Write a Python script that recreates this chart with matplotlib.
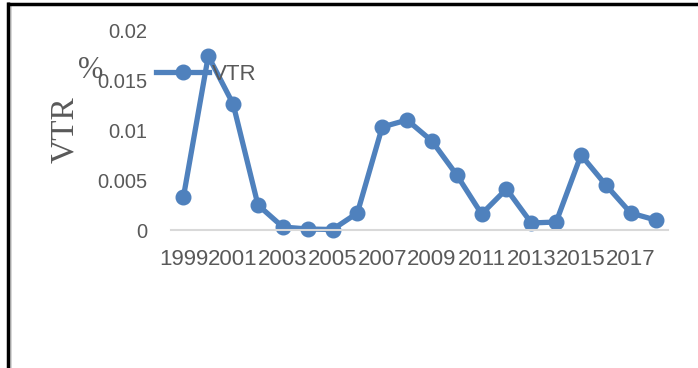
import matplotlib
matplotlib.use("Agg")
import matplotlib.pyplot as plt
from matplotlib.lines import Line2D

years = [1999, 2000, 2001, 2002, 2003, 2004, 2005, 2006, 2007, 2008,
         2009, 2010, 2011, 2012, 2013, 2014, 2015, 2016, 2017, 2018]
vtr = [0.0033, 0.0174, 0.0126, 0.0025, 0.0003, 0.0001, 0.00005, 0.0017, 0.0103, 0.0110,
       0.0089, 0.0055, 0.0016, 0.0041, 0.0007, 0.0008, 0.0075, 0.0045, 0.0017, 0.0010]
yticks = [0, 0.005, 0.01, 0.015, 0.02]
ytick_labels = ["0", "0.005", "0.01", "0.015", "0.02"]
series_name = "VTR"
ylabel_main = "VTR"
ylabel_unit = "%"

W, H = 698, 368
fig = plt.figure(figsize=(W / 100, H / 100), dpi=100)
fig.patch.set_facecolor("white")

ax = fig.add_axes([171 / W, 1 - 230 / H, (668 - 171) / W, 200 / H])
xs = list(range(len(years)))
color = "#4f81bd"
ax.plot(xs, vtr, color=color, lw=3.8, marker="o", markersize=10.5,
        label=series_name, clip_on=False, solid_joinstyle="round")

ax.set_xlim(-0.5, len(years) - 0.5)
ax.set_ylim(0, 0.02)
ax.set_yticks(yticks)
ax.set_yticklabels(ytick_labels)
ax.set_xticks(xs[::2])
ax.set_xticklabels([str(y) for y in years[::2]])

for s in ["top", "right", "left"]:
    ax.spines[s].set_visible(False)
ax.spines["bottom"].set_color("#d9d9d9")
ax.spines["bottom"].set_linewidth(1.5)
ax.tick_params(axis="both", length=0, colors="#595959")
ax.tick_params(axis="y", pad=17, labelsize=14.5)
ax.tick_params(axis="x", pad=14, labelsize=16)
for lab in ax.get_xticklabels() + ax.get_yticklabels():
    lab.set_fontfamily("Liberation Sans")
ax.set_facecolor("none")

leg = fig.legend(loc="center left", bbox_to_anchor=(156 / W, 1 - 74 / H),
                 frameon=False, borderpad=0, borderaxespad=0,
                 handlelength=2.4, handletextpad=0.1,
                 prop={"family": "Liberation Sans", "size": 16})
for t in leg.get_texts():
    t.set_color("#595959")

fig.text(65 / W, 1 - 130 / H, ylabel_main, rotation=90, ha="center", va="center",
         family="Liberation Serif", fontsize=24, color="#595959")
fig.text(91 / W, 1 - 71 / H, ylabel_unit, ha="center", va="center",
         family="Liberation Serif", fontsize=22, color="#595959")

# outer frame (top and left edges)
fig.add_artist(Line2D([8.3 / W, 1.0], [1 - 5.3 / H, 1 - 5.3 / H], transform=fig.transFigure,
                      color="#d0d0d0", lw=1.2))
fig.add_artist(Line2D([10.6 / W, 10.6 / W], [0, 1 - 3.5 / H], transform=fig.transFigure,
                      color="#d0d0d0", lw=1.2))
fig.add_artist(Line2D([7 / W, 1.0], [1 - 3.5 / H, 1 - 3.5 / H], transform=fig.transFigure,
                      color="black", lw=2.5, solid_capstyle="butt"))
fig.add_artist(Line2D([8.3 / W, 8.3 / W], [0, 1 - 2 / H], transform=fig.transFigure,
                      color="black", lw=2.5, solid_capstyle="butt"))

fig.savefig("out.png", dpi=100)
